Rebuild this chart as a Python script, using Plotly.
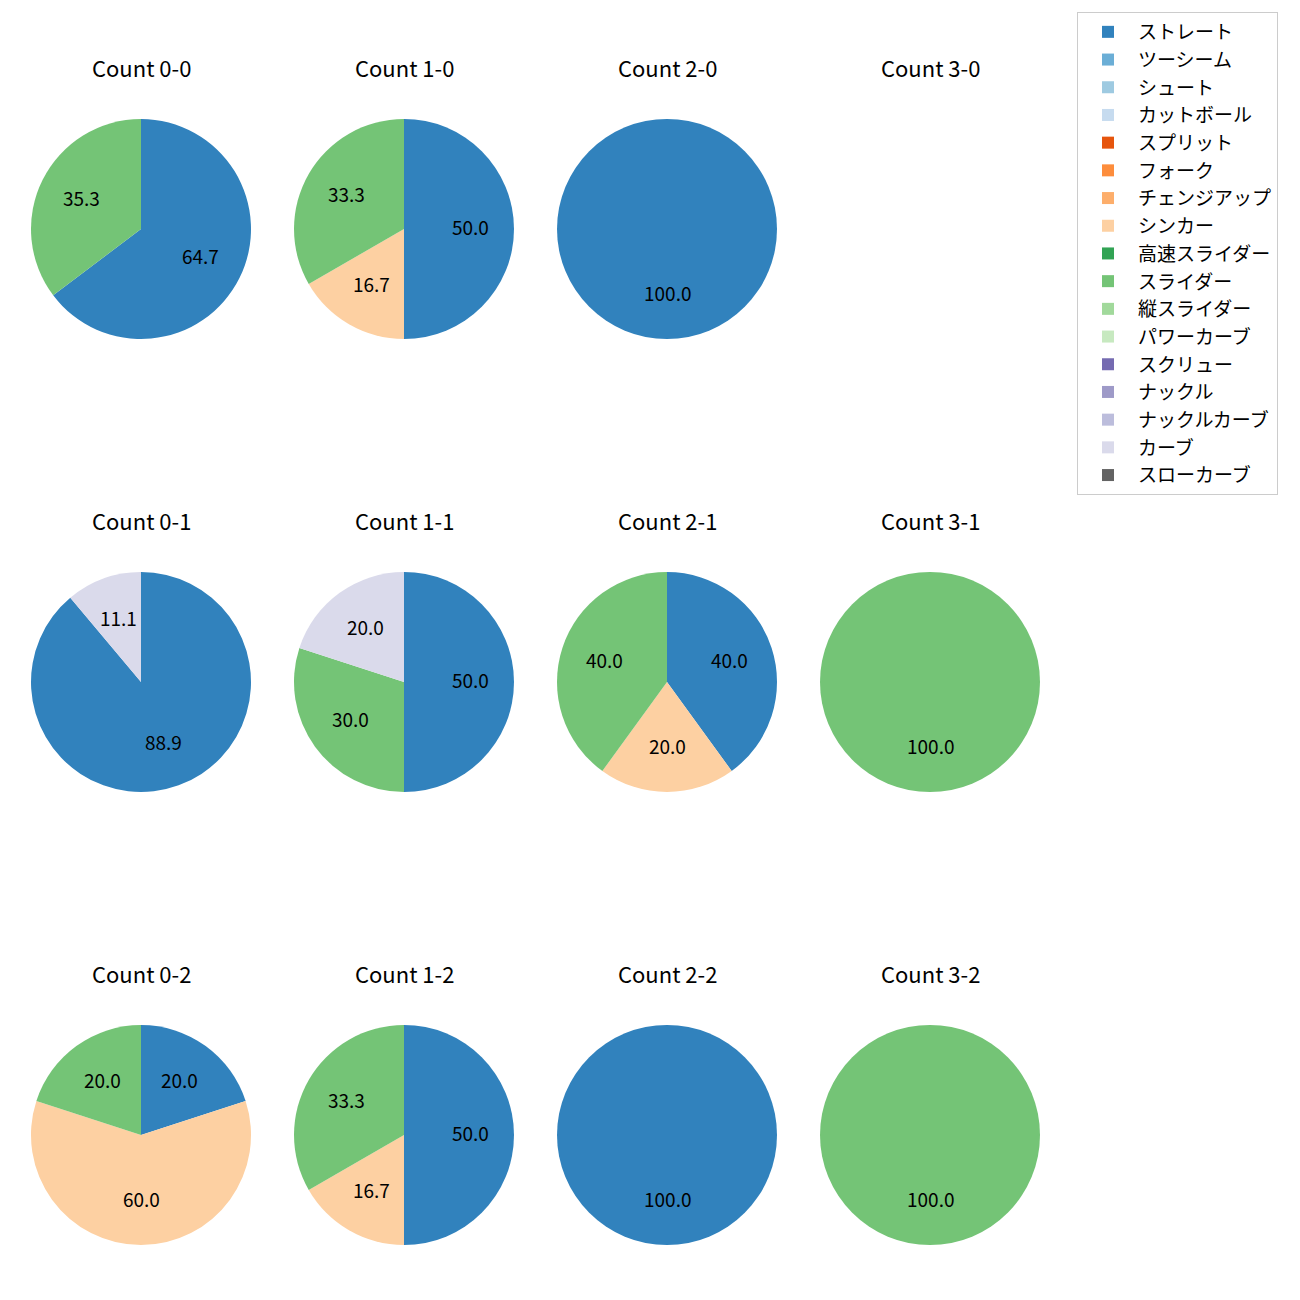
import math
import plotly.graph_objects as go

pitch_types = ["ストレート", "ツーシーム", "シュート", "カットボール", "スプリット", "フォーク",
               "チェンジアップ", "シンカー", "高速スライダー", "スライダー", "縦スライダー",
               "パワーカーブ", "スクリュー", "ナックル", "ナックルカーブ", "カーブ", "スローカーブ"]
colors = ["#3182bd", "#6baed6", "#9ecae1", "#c6dbef", "#e6550d", "#fd8d3c", "#fdae6b",
          "#fdd0a2", "#31a354", "#74c476", "#a1d99b", "#c7e9c0", "#756bb1", "#9e9ac8",
          "#bcbddc", "#dadaeb", "#636363"]

balls = [0, 1, 2, 3]
strikes = [0, 1, 2]

# pitch counts per ball-strike count (only non-zero entries)
count_00 = {"ストレート": 11, "スライダー": 6}
count_10 = {"ストレート": 3, "シンカー": 1, "スライダー": 2}
count_20 = {"ストレート": 1}
count_30 = {}
count_01 = {"ストレート": 8, "カーブ": 1}
count_11 = {"ストレート": 5, "スライダー": 3, "カーブ": 2}
count_21 = {"ストレート": 2, "シンカー": 1, "スライダー": 2}
count_31 = {"スライダー": 1}
count_02 = {"ストレート": 1, "シンカー": 3, "スライダー": 1}
count_12 = {"ストレート": 3, "シンカー": 1, "スライダー": 2}
count_22 = {"ストレート": 1}
count_32 = {"スライダー": 1}

data = {
    (0, 0): count_00, (1, 0): count_10, (2, 0): count_20, (3, 0): count_30,
    (0, 1): count_01, (1, 1): count_11, (2, 1): count_21, (3, 1): count_31,
    (0, 2): count_02, (1, 2): count_12, (2, 2): count_22, (3, 2): count_32,
}

W, H = 1300, 1300
OFF = 8  # page body margin
col_centers = [141, 404, 667, 930]
row_centers = [229, 682, 1135]
R = 110
FONT = "Noto Sans CJK JP"


def px(x):
    return (x - OFF) / W


def py(y):
    return 1 - (y - OFF) / H


fig = go.Figure()
annotations = []
first = True
for s in strikes:
    for b in balls:
        d = data[(b, s)]
        cx, cy = col_centers[b], row_centers[s]
        annotations.append(dict(text=f"Count {b}-{s}", x=px(cx), y=py(cy - 162),
                                xref="paper", yref="paper", showarrow=False,
                                font=dict(size=22, color="#000", family=FONT),
                                xanchor="center", yanchor="middle"))
        total = sum(d.values())
        if total == 0:
            continue
        vals = [d.get(p, 0) for p in pitch_types]
        fig.add_trace(go.Pie(
            labels=pitch_types, values=vals, sort=False, direction="clockwise", rotation=0,
            marker=dict(colors=colors, line=dict(width=0)),
            textinfo="none", hoverinfo="label+percent",
            showlegend=first,
            domain=dict(x=[px(cx - R), px(cx + R)], y=[py(cy + R), py(cy - R)]),
        ))
        first = False
        cum = 0
        for p, v in zip(pitch_types, vals):
            if v == 0:
                continue
            frac = v / total
            mid = math.radians(90 - 360 * (cum + frac / 2))
            cum += frac
            lx = cx + 0.6 * R * math.cos(mid)
            ly = cy - 0.6 * R * math.sin(mid) - 2.5
            annotations.append(dict(text=f"{100 * frac:.1f}", x=px(lx), y=py(ly),
                                    xref="paper", yref="paper", showarrow=False,
                                    font=dict(size=19, color="#000", family=FONT),
                                    xanchor="center", yanchor="middle"))

fig.update_layout(
    width=W, height=H, margin=dict(l=0, r=0, t=0, b=0),
    paper_bgcolor="white", plot_bgcolor="white",
    font=dict(family=FONT, size=19, color="#000"),
    annotations=annotations,
    legend=dict(x=px(1077), y=py(12), xanchor="left", yanchor="top",
                bordercolor="#cccccc", borderwidth=1, bgcolor="white",
                itemwidth=50,
                font=dict(size=19, family=FONT), traceorder="normal"),
)
fig.write_html("out.html")
